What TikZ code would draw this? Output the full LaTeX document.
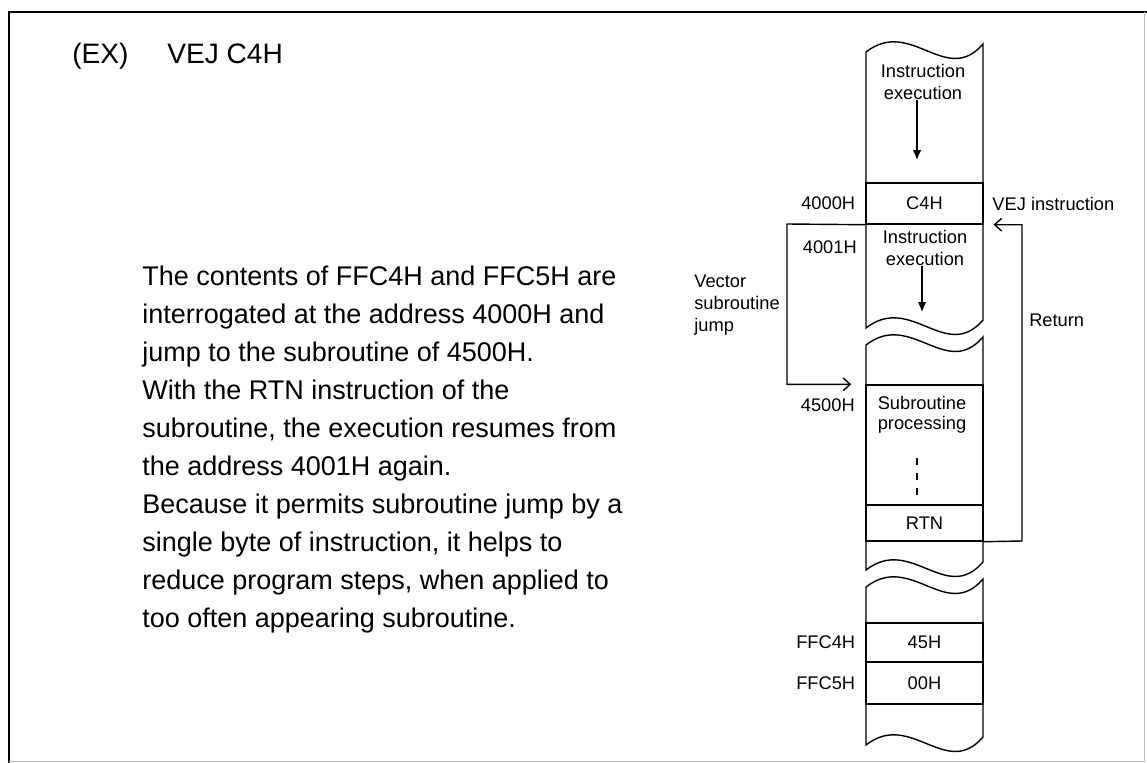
\documentclass[tikz,border=0pt]{standalone}
\usepackage{fontspec}
\setmainfont{Liberation Sans}
\usetikzlibrary{positioning,arrows.meta}
\tikzset{
  col/.style={line width=1pt},
  cell/.style={draw,line width=1pt,minimum width=117*0.025cm,
    minimum height=#1*0.025cm,inner sep=0pt,font=\fontsize{13}{16}\selectfont},
  lbl/.style={inner sep=0pt,font=\fontsize{13}{15.6}\selectfont},
  body/.style={inner sep=0pt,anchor=base west,font=\fontsize{19.2}{23}\selectfont},
  flow/.style={line width=1pt,-{Latex[length=7pt,width=6pt]}},
  jump/.style={line width=1pt,-{Straight Barb[length=5pt,width=9pt]}}
}
\begin{document}
\begin{tikzpicture}[x=0.025cm,y=-0.025cm]
            \useasboundingbox (0,0) rectangle (1147,763);
            \def\xl{866}
            \def\xr{983}
            \draw[line width=1.4pt] (9,763)--(9,12)--(1147,12);
            \draw[black!25] (1144,12)--(1144,761)--(9,761);
            \node[body,font=\fontsize{20}{24}\selectfont] (ex) at (72,63) {(EX)};
            \node[body,font=\fontsize{20}{24}\selectfont] (title) at (167,63) {VEJ C4H};
            \foreach \linetext [count=\i] in
                {{The contents of FFC4H and FFC5H are},
                 {interrogated at the address 4000H and},
                 {jump to the subroutine of 4500H.},
                 {With the RTN instruction of the},
                 {subroutine, the execution resumes from},
                 {the address 4001H again.},
                 {Because it permits subroutine jump by a},
                 {single byte of instruction, it helps to},
                 {reduce program steps, when applied to},
                 {too often appearing subroutine.}}
                {\node[body] (line\i) at (142,{285+(\i-1)*38}) {\linetext};}
            \foreach \ytop/\ybot in {52/328,345/570,587/745}
                {\draw[col] (\xl,\ytop)
                    .. controls ({\xl+45},{\ytop-35}) and ({\xl+80},{\ytop+35}) .. (\xr,{\ytop-8})
                    --(\xr,{\ybot-8})
                    .. controls ({\xl+80},{\ybot+35}) and ({\xl+45},{\ybot-35}) .. (\xl,\ybot)
                    --cycle;}
            \node[cell=41] (c4h) at (924.5,203.5) {C4H};
            \node[cell=120] (sub) at (924.5,445) {};
            \node[cell=36] (rtn) at (924.5,523) {RTN};
            \node[cell=39] (c45) at (924.5,642.5) {45H};
            \node[cell=42] (c00) at (924.5,683) {00H};
            \node[lbl,align=center] (exec1) at (923,82) {Instruction\\execution};
            \node[lbl,align=center] (exec2) at (925,248) {Instruction\\execution};
            \node[lbl,align=center,font=\fontsize{13}{14.4}\selectfont] (proc) at (922,415)
                {Subroutine\\processing};
            \coordinate (exec1end) at (917,160);
            \coordinate (exec2end) at (922,312);
            \draw[flow] (exec1.south -| exec1end)--(exec1end);
            \draw[flow] (exec2.south -| exec2end)--(exec2end);
            \draw[line width=1.2pt,dash pattern=on 5pt off 5.5pt] (917,458)--(917,497);
            \node[lbl,left=7pt of c4h] (a4000) {4000H};
            \node[lbl,anchor=east] (a4001) at (857,247) {4001H};
            \node[lbl,anchor=east] (a4500) at (855,405) {4500H};
            \node[lbl,left=7pt of c45] (affc4) {FFC4H};
            \node[lbl,left=7pt of c00] (affc5) {FFC5H};
            \node[lbl,right=6pt of c4h] (vej) {VEJ instruction};
            \node[lbl,align=left,anchor=east] (veclbl) at (780,305)
                {Vector\\subroutine\\jump};
            \node[lbl,anchor=west] (retlbl) at (1029,320) {Return};
            \coordinate (jumpcorner) at (787,224);
            \coordinate (retcorner) at (1022,541);
            \draw[jump,shorten >=10pt] (c4h.south west)--(jumpcorner) |- (sub.north west);
            \draw[jump,shorten >=7pt] (rtn.south east)--(retcorner) |- (c4h.south east);
            \end{tikzpicture}
\end{document}
